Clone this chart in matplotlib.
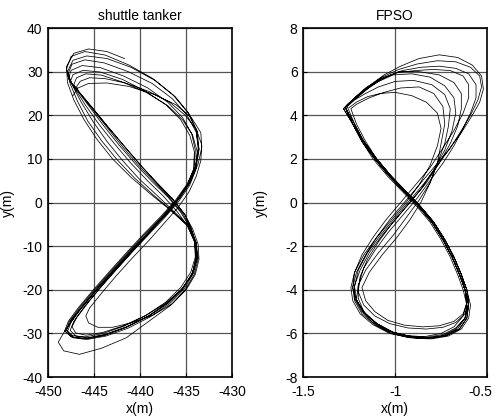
import numpy as np
import matplotlib
matplotlib.use("Agg")
import matplotlib.pyplot as plt
import matplotlib.transforms as mtransforms

plt.rcParams["font.family"] = ["Liberation Sans", "DejaVu Sans"]
plt.rcParams["font.size"] = 10
plt.rcParams["axes.unicode_minus"] = False

# ── Data: shuttle tanker track, one list per cycle ──────────
tanker_x = [
    [-441.7, -443.6, -445.6, -447.2, -448.0,
     -447.9, -447.2, -446.1, -444.7, -443.0, -441.0, -438.9, -436.8, -434.9, -434.1,
     -433.9, -434.3, -435.3, -436.9, -439.0, -441.5, -443.9, -446.0, -447.5, -448.2,
     -447.8, -446.6, -445.0, -443.2, -441.4, -439.6, -437.8, -436.2, -434.9, -434.0,
     -433.7, -433.9, -434.8, -436.4, -438.6, -441.2, -443.8, -446.0, -447.5, -448.0],
    [-447.6, -446.8, -445.7, -444.2, -442.5, -440.6, -438.6, -436.6, -434.8, -434.0,
     -433.8, -434.2, -435.2, -436.8, -438.9, -441.3, -443.7, -445.8, -447.3, -448.1,
     -447.7, -446.5, -444.9, -443.1, -441.3, -439.5, -437.7, -436.1, -434.8, -434.0,
     -433.6, -433.8, -434.7, -436.2, -438.4, -441.0, -443.6, -445.8, -447.3, -447.9],
    [-447.4, -446.4, -445.1, -443.6, -441.9, -440.1, -438.2, -436.4, -434.7, -434.0,
     -433.9, -434.3, -435.4, -437.0, -439.1, -441.5, -443.8, -445.8, -447.2, -447.9,
     -447.5, -446.3, -444.7, -442.9, -441.1, -439.3, -437.6, -436.0, -434.7, -433.9,
     -433.6, -433.9, -434.9, -436.5, -438.7, -441.3, -443.9, -446.0, -447.4, -447.9],
    [-447.2, -446.0, -444.5, -442.8, -441.0, -439.2, -437.5, -436.0, -434.8, -434.1,
     -434.0, -434.5, -435.6, -437.2, -439.3, -441.7, -444.0, -446.0, -447.4, -448.0,
     -447.5, -446.2, -444.6, -442.8, -441.0, -439.2, -437.5, -436.0, -434.8, -434.1,
     -434.0, -434.4, -435.4, -437.0, -439.2, -441.8, -444.3, -446.3, -447.5, -447.8],
    [-447.0, -445.6, -444.0, -442.3, -440.5, -438.7, -437.0, -435.6, -434.6, -433.9,
     -433.7, -434.1, -435.1, -436.7, -438.9, -441.5, -444.2, -446.6, -448.3, -448.9,
     -448.2, -446.7, -444.9, -443.0, -441.1, -439.3, -437.6, -436.1, -434.9, -434.2,
     -434.1, -434.6, -435.6, -437.2, -439.4, -441.9, -444.3, -446.2, -447.3, -447.6],
    [-446.9, -445.4, -443.7, -442.0, -440.2, -438.4, -436.8, -435.4, -434.5, -433.9,
     -433.8, -434.3, -435.4, -437.0, -439.1, -441.5, -443.8, -445.7, -447.0, -447.6,
     -447.2, -446.0, -444.4, -442.6, -440.8, -439.0, -437.3, -435.8, -434.6, -433.9,
     -433.8, -434.3, -435.4, -437.0, -439.3, -441.9, -444.2, -445.9, -446.9, -447.2],
    [-446.8, -445.2, -443.5, -441.7, -439.9, -438.1, -436.5, -435.2, -434.3, -433.7,
     -433.6, -434.0, -435.0, -436.5, -438.6, -441.0, -443.0, -444.6, -445.6, -445.9,
     -445.5, -444.2, -442.6, -440.8, -439.0, -437.4, -435.9, -434.7, -433.9, -433.4,
     -433.3, -433.9, -435.1, -436.8, -439.1, -441.6, -443.8, -445.5, -446.5, -446.9],
    [-446.7, -445.1, -443.3, -441.5, -439.7, -438.0, -436.4, -435.1, -434.4, -433.9,
     -433.9, -434.4, -435.6, -437.3, -439.5, -441.9, -444.1, -445.9, -447.0, -447.4,
     -446.9, -445.6, -444.0, -442.2, -440.4, -438.7, -437.0, -435.6, -434.5, -433.7,
     -433.3, -433.4, -434.4, -436.1, -438.5, -441.2, -443.6, -445.6, -446.8, -447.3],
]
tanker_y = [
    [33.0, 34.6, 35.2, 34.2, 31.2,
     27.5, 23.5, 19.0, 14.5, 10.0, 5.8, 2.0, -1.6, -5.2, -8.8,
     -12.4, -16.0, -19.6, -23.0, -26.0, -28.6, -30.4, -31.2, -30.8, -29.4,
     -27.2, -23.8, -19.8, -15.5, -11.3, -7.2, -3.3, 0.4, 4.2, 8.2,
     12.4, 16.5, 20.6, 24.6, 28.4, 31.5, 33.8, 34.6, 33.5, 30.6],
    [27.2, 23.2, 18.7, 14.2, 9.8, 5.6, 1.8, -1.8, -5.4, -9.0,
     -12.6, -16.2, -19.8, -23.2, -26.2, -28.8, -30.6, -31.4, -31.0, -29.6,
     -27.3, -23.9, -19.9, -15.6, -11.4, -7.3, -3.4, 0.3, 4.1, 8.1,
     12.3, 16.4, 20.4, 24.3, 28.0, 31.0, 33.0, 33.6, 32.6, 30.0],
    [27.0, 23.0, 18.5, 14.0, 9.6, 5.4, 1.7, -1.9, -5.4, -9.0,
     -12.6, -16.2, -19.7, -23.0, -26.0, -28.6, -30.4, -31.2, -30.9, -29.6,
     -27.4, -24.0, -20.0, -15.7, -11.5, -7.4, -3.4, 0.3, 4.1, 8.0,
     12.1, 16.1, 20.0, 23.8, 27.3, 30.0, 32.0, 32.7, 31.7, 29.2],
    [26.5, 22.5, 18.0, 13.5, 9.0, 5.0, 1.5, -2.0, -5.5, -9.0,
     -12.5, -16.0, -19.5, -22.8, -25.8, -28.3, -30.0, -30.8, -30.5, -29.2,
     -27.0, -23.5, -19.5, -15.2, -11.0, -7.0, -3.2, 0.5, 4.2, 8.0,
     12.0, 15.8, 19.5, 23.0, 26.3, 29.0, 30.9, 31.4, 30.3, 28.4],
    [26.2, 22.2, 17.7, 13.2, 8.8, 4.8, 1.3, -2.2, -5.7, -9.2,
     -12.8, -16.4, -20.0, -23.6, -27.0, -31.0, -33.4, -34.8, -34.0, -32.0,
     -29.5, -25.0, -20.4, -15.9, -11.6, -7.5, -3.6, 0.1, 3.8, 7.6,
     11.6, 15.4, 19.0, 22.4, 25.5, 28.2, 29.9, 30.3, 29.3, 27.6],
    [26.0, 22.0, 17.5, 13.0, 8.6, 4.6, 1.1, -2.4, -5.8, -9.3,
     -12.8, -16.3, -19.8, -23.0, -26.0, -28.5, -30.2, -31.0, -30.6, -29.3,
     -27.2, -23.7, -19.7, -15.4, -11.2, -7.2, -3.4, 0.3, 4.0, 7.8,
     11.7, 15.5, 19.0, 22.2, 25.2, 27.6, 29.2, 29.5, 28.6, 27.1],
    [25.8, 21.8, 17.3, 12.8, 8.4, 4.4, 0.9, -2.6, -6.0, -9.5,
     -13.0, -16.5, -20.0, -23.2, -25.8, -27.6, -28.6, -28.6, -27.6, -26.0,
     -24.2, -20.8, -16.8, -12.6, -8.6, -4.8, -1.2, 2.4, 6.0, 9.6,
     13.2, 16.8, 20.0, 23.0, 25.5, 27.4, 28.4, 28.6, 27.8, 26.6],
    [25.4, 21.4, 16.9, 12.4, 8.0, 4.0, 0.6, -2.8, -6.2, -9.7,
     -13.2, -16.7, -20.1, -23.2, -26.0, -28.3, -29.8, -30.4, -29.9, -28.5,
     -26.4, -22.8, -18.7, -14.4, -10.2, -6.2, -2.4, 1.3, 5.0, 8.8,
     12.6, 16.0, 19.4, 22.4, 24.8, 26.6, 27.4, 27.3, 26.2, 24.5],
]

# ── Data: FPSO track, one list per cycle ────────────────────
fpso_x = [
    [-1.27, -1.23, -1.18, -1.12, -1.04, -0.96, -0.88, -0.81, -0.75, -0.70,
     -0.66, -0.63, -0.61, -0.62, -0.66, -0.73, -0.82, -0.92, -1.02, -1.11,
     -1.18, -1.22, -1.23, -1.21, -1.16, -1.10, -1.03, -0.95, -0.87, -0.79,
     -0.71, -0.64, -0.58, -0.54, -0.52, -0.53, -0.58, -0.66, -0.76, -0.87,
     -0.97, -1.06, -1.14, -1.21, -1.26],
    [-1.28, -1.23, -1.17, -1.11, -1.03, -0.95, -0.87, -0.80, -0.74, -0.69,
     -0.65, -0.62, -0.60, -0.61, -0.65, -0.72, -0.81, -0.91, -1.01, -1.10,
     -1.17, -1.21, -1.22, -1.20, -1.15, -1.08, -1.00, -0.92, -0.84, -0.77,
     -0.70, -0.64, -0.59, -0.55, -0.53, -0.54, -0.59, -0.67, -0.77, -0.88,
     -0.98, -1.07, -1.15, -1.22],
    [-1.27, -1.22, -1.17, -1.11, -1.03, -0.95, -0.87, -0.80, -0.74, -0.69,
     -0.65, -0.62, -0.60, -0.62, -0.67, -0.74, -0.83, -0.93, -1.03, -1.11,
     -1.17, -1.20, -1.20, -1.17, -1.11, -1.04, -0.96, -0.88, -0.81, -0.74,
     -0.68, -0.63, -0.59, -0.56, -0.56, -0.60, -0.67, -0.76, -0.86, -0.96,
     -1.05, -1.13, -1.20, -1.25],
    [-1.27, -1.23, -1.17, -1.10, -1.02, -0.94, -0.86, -0.79, -0.73, -0.68,
     -0.64, -0.61, -0.59, -0.60, -0.64, -0.71, -0.80, -0.90, -1.00, -1.09,
     -1.16, -1.21, -1.23, -1.22, -1.18, -1.12, -1.05, -0.97, -0.89, -0.81,
     -0.74, -0.68, -0.63, -0.60, -0.60, -0.63, -0.70, -0.79, -0.89, -0.99,
     -1.08, -1.16, -1.22],
    [-1.27, -1.23, -1.18, -1.11, -1.03, -0.95, -0.87, -0.80, -0.74, -0.69,
     -0.65, -0.62, -0.61, -0.63, -0.68, -0.75, -0.84, -0.94, -1.04, -1.12,
     -1.18, -1.22, -1.22, -1.19, -1.14, -1.07, -0.99, -0.91, -0.83, -0.76,
     -0.70, -0.66, -0.64, -0.64, -0.68, -0.76, -0.87, -0.98, -1.07, -1.15,
     -1.21, -1.26],
    [-1.28, -1.23, -1.17, -1.10, -1.02, -0.94, -0.86, -0.79, -0.73, -0.68,
     -0.64, -0.61, -0.60, -0.62, -0.67, -0.74, -0.83, -0.93, -1.03, -1.11,
     -1.17, -1.20, -1.19, -1.15, -1.09, -1.02, -0.94, -0.86, -0.79, -0.73,
     -0.69, -0.67, -0.68, -0.73, -0.81, -0.91, -1.01, -1.09, -1.16, -1.22],
    [-1.27, -1.23, -1.18, -1.11, -1.03, -0.95, -0.87, -0.80, -0.74, -0.69,
     -0.65, -0.62, -0.60, -0.61, -0.65, -0.72, -0.81, -0.91, -1.01, -1.10,
     -1.17, -1.21, -1.20, -1.16, -1.09, -1.01, -0.94, -0.87, -0.81, -0.77,
     -0.73, -0.71, -0.70, -0.73, -0.80, -0.90, -1.00, -1.09, -1.16, -1.22],
    [-1.26, -1.22, -1.17, -1.10, -1.02, -0.94, -0.86, -0.79, -0.73, -0.68,
     -0.64, -0.62, -0.61, -0.63, -0.68, -0.76, -0.85, -0.95, -1.04, -1.11,
     -1.16, -1.18, -1.14, -1.07, -0.99, -0.92, -0.86, -0.81, -0.77, -0.75,
     -0.73, -0.74, -0.79, -0.87, -0.97, -1.06, -1.14, -1.21],
    [-1.24, -1.21, -1.16, -1.10, -1.02, -0.94, -0.86, -0.79, -0.73, -0.68,
     -0.64, -0.61, -0.60, -0.62, -0.67, -0.74, -0.83, -0.93, -1.03, -1.12,
     -1.19, -1.23, -1.24, -1.22, -1.17, -1.10, -1.02, -0.94, -0.87, -0.81,
     -0.77, -0.75, -0.77, -0.83, -0.91, -1.00, -1.08, -1.15, -1.21, -1.25],
]
fpso_y = [
    [4.4, 3.6, 2.8, 2.0, 1.2, 0.5, -0.2, -0.9, -1.7, -2.5,
     -3.3, -4.0, -4.7, -5.3, -5.8, -6.1, -6.25, -6.2, -6.0, -5.6,
     -5.1, -4.5, -3.9, -3.2, -2.4, -1.6, -0.8, 0.0, 0.8, 1.6,
     2.4, 3.2, 4.0, 4.6, 5.2, 5.8, 6.3, 6.65, 6.77, 6.6,
     6.25, 5.85, 5.35, 4.85, 4.5],
    [4.3, 3.6, 2.8, 2.0, 1.2, 0.5, -0.2, -0.9, -1.7, -2.5,
     -3.3, -4.0, -4.7, -5.3, -5.8, -6.1, -6.22, -6.15, -5.95, -5.55,
     -5.05, -4.45, -3.85, -3.1, -2.3, -1.5, -0.7, 0.1, 0.9, 1.7,
     2.5, 3.3, 4.0, 4.7, 5.3, 5.8, 6.2, 6.45, 6.5, 6.35,
     6.1, 5.75, 5.3, 4.8],
    [4.35, 3.6, 2.8, 2.0, 1.2, 0.5, -0.2, -0.9, -1.7, -2.5,
     -3.3, -4.0, -4.7, -5.3, -5.75, -6.05, -6.18, -6.12, -5.9, -5.5,
     -5.0, -4.4, -3.8, -3.0, -2.2, -1.4, -0.6, 0.2, 1.0, 1.8,
     2.6, 3.4, 4.1, 4.8, 5.4, 5.9, 6.15, 6.25, 6.2, 6.05,
     5.75, 5.35, 4.85, 4.55],
    [4.35, 3.6, 2.8, 2.0, 1.2, 0.5, -0.2, -0.9, -1.7, -2.5,
     -3.3, -4.0, -4.7, -5.3, -5.8, -6.12, -6.25, -6.2, -6.0, -5.6,
     -5.1, -4.5, -3.9, -3.2, -2.4, -1.6, -0.8, 0.0, 0.8, 1.6,
     2.5, 3.3, 4.1, 4.8, 5.4, 5.8, 6.05, 6.1, 6.05, 5.95,
     5.65, 5.25, 4.8],
    [4.35, 3.6, 2.8, 2.0, 1.2, 0.5, -0.2, -0.9, -1.7, -2.5,
     -3.3, -4.0, -4.6, -5.2, -5.7, -6.0, -6.15, -6.1, -5.9, -5.5,
     -5.0, -4.4, -3.8, -3.1, -2.3, -1.5, -0.7, 0.1, 0.9, 1.8,
     2.7, 3.5, 4.3, 5.0, 5.5, 5.85, 6.0, 6.0, 5.7, 5.25,
     4.8, 4.45],
    [4.3, 3.6, 2.8, 2.0, 1.2, 0.5, -0.2, -0.9, -1.7, -2.5,
     -3.3, -4.0, -4.6, -5.1, -5.5, -5.72, -5.8, -5.75, -5.55, -5.2,
     -4.7, -4.1, -3.4, -2.6, -1.8, -1.0, -0.2, 0.6, 1.5, 2.4,
     3.3, 4.1, 4.8, 5.35, 5.75, 5.9, 5.85, 5.55, 5.15, 4.75],
    [4.35, 3.6, 2.8, 2.0, 1.2, 0.5, -0.2, -0.9, -1.7, -2.5,
     -3.3, -4.0, -4.7, -5.3, -5.8, -6.1, -6.2, -6.15, -5.95, -5.55,
     -5.05, -4.45, -3.8, -3.1, -2.3, -1.5, -0.7, 0.1, 0.9, 1.8,
     2.7, 3.5, 4.3, 4.95, 5.4, 5.6, 5.55, 5.3, 5.0, 4.7],
    [4.4, 3.6, 2.8, 2.0, 1.2, 0.5, -0.2, -0.9, -1.7, -2.5,
     -3.3, -4.0, -4.6, -5.1, -5.45, -5.65, -5.7, -5.62, -5.4, -5.0,
     -4.5, -3.9, -3.2, -2.4, -1.6, -0.8, 0.0, 0.9, 1.8, 2.7,
     3.6, 4.4, 5.0, 5.3, 5.25, 5.05, 4.8, 4.5],
    [4.3, 3.6, 2.8, 2.0, 1.2, 0.5, -0.2, -0.9, -1.7, -2.5,
     -3.3, -4.0, -4.7, -5.3, -5.8, -6.1, -6.22, -6.18, -6.0, -5.6,
     -5.1, -4.5, -3.9, -3.2, -2.4, -1.6, -0.8, 0.0, 0.8, 1.7,
     2.6, 3.4, 4.1, 4.6, 4.9, 5.05, 5.0, 4.85, 4.6, 4.35],
]

# ── Axis ticks / labels ─────────────────────────────────────
tanker_xticks = [-450, -445, -440, -435, -430]
tanker_yticks = [-40, -30, -20, -10, 0, 10, 20, 30, 40]
fpso_xticks = [-1.5, -1, -0.5]
fpso_xticklabels = ["-1.5", "-1", "-0.5"]
fpso_yticks = [-8, -6, -4, -2, 0, 2, 4, 6, 8]

fig = plt.figure(figsize=(4.96, 4.18), dpi=100)
ax1 = fig.add_axes([0.097, 0.098, 0.371, 0.835])
ax2 = fig.add_axes([0.611, 0.098, 0.371, 0.835])


def style(ax):
    ax.grid(True, color="#555555", linewidth=0.9)
    ax.set_axisbelow(True)
    ax.tick_params(direction="in", length=3, width=0.8, labelsize=10)
    ax.tick_params(axis="x", pad=6)
    ax.tick_params(axis="y", pad=4)
    for sp in ax.spines.values():
        sp.set_linewidth(1.2)
        sp.set_color("black")


# shuttle tanker
ax1.plot(np.concatenate(tanker_x), np.concatenate(tanker_y), color="black", linewidth=0.55)
ax1.set_xlim(-450, -430)
ax1.set_ylim(-40, 40)
ax1.set_xticks(tanker_xticks)
ax1.set_yticks(tanker_yticks)
ax1.set_xlabel("x(m)", labelpad=2)
ax1.set_ylabel("y(m)")
ax1.yaxis.set_label_coords(-0.18, 0.5)
ax1.set_title("shuttle tanker", fontsize=10, pad=6)
style(ax1)

# FPSO
ax2.plot(np.concatenate(fpso_x), np.concatenate(fpso_y), color="black", linewidth=0.55)
ax2.set_xlim(-1.5, -0.5)
ax2.set_ylim(-8, 8)
ax2.set_xticks(fpso_xticks)
ax2.set_xticklabels(fpso_xticklabels)
ax2.set_yticks(fpso_yticks)
ax2.set_xlabel("x(m)", labelpad=2)
ax2.set_ylabel("y(m)")
ax2.yaxis.set_label_coords(-0.19, 0.5)
ax2.set_title("FPSO", fontsize=10, pad=6)
style(ax2)

# last tick label sits at the figure edge; nudge it left a bit
last = ax2.get_xticklabels()[-1]
last.set_transform(last.get_transform() +
                   mtransforms.ScaledTranslation(-5 / 72, 0, fig.dpi_scale_trans))

fig.savefig("out.png", dpi=100)
